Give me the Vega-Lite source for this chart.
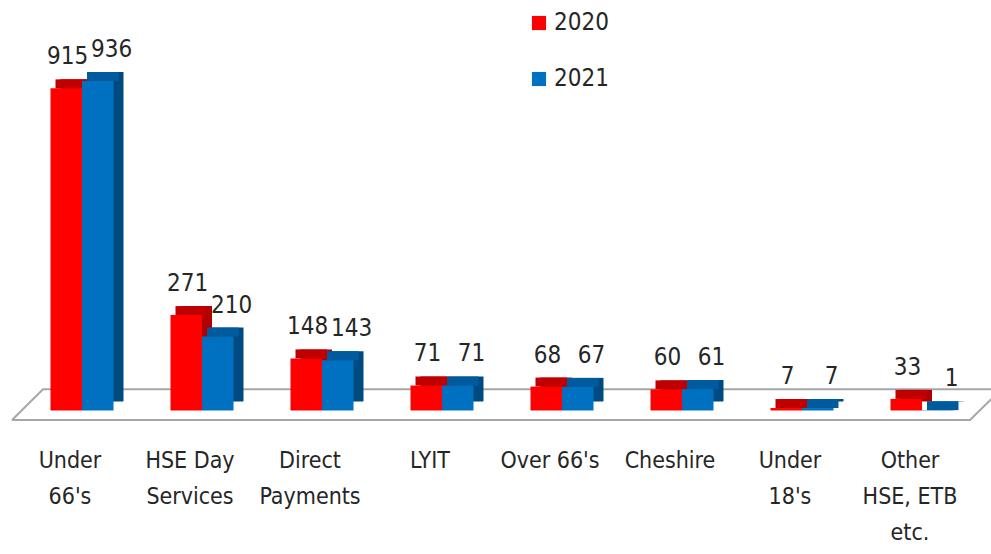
{
  "$schema": "https://vega.github.io/schema/vega-lite/v6.json",
  "width": 960,
  "height": 420,
  "autosize": "none",
  "padding": {"left": 22, "top": 0, "right": 9, "bottom": 134},
  "background": "white",
  "config": {
    "view": {"stroke": null},
    "font": "DejaVu Sans Condensed, Open Sans, sans-serif"
  },
  "datasets": {
    "bars": [
      {"category": "Under 66's", "year": "2020", "count": 915},
      {"category": "Under 66's", "year": "2021", "count": 936},
      {"category": "HSE Day Services", "year": "2020", "count": 271},
      {"category": "HSE Day Services", "year": "2021", "count": 210},
      {"category": "Direct Payments", "year": "2020", "count": 148},
      {"category": "Direct Payments", "year": "2021", "count": 143},
      {"category": "LYIT", "year": "2020", "count": 71},
      {"category": "LYIT", "year": "2021", "count": 71},
      {"category": "Over 66's", "year": "2020", "count": 68},
      {"category": "Over 66's", "year": "2021", "count": 67},
      {"category": "Cheshire", "year": "2020", "count": 60},
      {"category": "Cheshire", "year": "2021", "count": 61},
      {"category": "Under 18's", "year": "2020", "count": 7},
      {"category": "Under 18's", "year": "2021", "count": 7},
      {"category": "Other HSE, ETB etc.", "year": "2020", "count": 33},
      {"category": "Other HSE, ETB etc.", "year": "2021", "count": 1}
    ],
    "floor": [
      {"ord": 1, "fx": -0.083, "fy": -27},
      {"ord": 2, "fx": 7.9, "fy": -27},
      {"ord": 3, "fx": 8.16, "fy": 60},
      {"ord": 4, "fx": 0.175, "fy": 60},
      {"ord": 5, "fx": -0.083, "fy": -27}
    ]
  },
  "resolve": {"scale": {"x": "independent"}},
  "layer": [
    {
      "data": {"name": "floor"},
      "mark": {"type": "line", "stroke": "#a6a6a6", "strokeWidth": 2, "clip": false},
      "encoding": {
        "x": {"field": "fx", "type": "quantitative", "scale": {"domain": [0, 8], "nice": false, "zero": false}, "axis": null},
        "y": {"field": "fy", "type": "quantitative", "scale": {"domain": [-27, 1166], "nice": false, "zero": false}, "axis": null},
        "order": {"field": "ord", "type": "quantitative"}
      }
    },
    {
      "data": {"name": "bars"},
      "resolve": {"scale": {"xOffset": "independent"}},
      "encoding": {
        "x": {
          "field": "category",
          "type": "nominal",
          "sort": null,
          "scale": {"paddingInner": 0.475, "paddingOuter": 0.2375},
          "axis": {
            "title": null,
            "domain": false,
            "ticks": false,
            "labelAngle": 0,
            "labelFontSize": 23,
            "labelColor": "#262626",
            "labelLineHeight": 36,
            "labelPadding": 29,
            "labelOffset": -12,
            "labelBaseline": "top",
            "labelExpr": "datum.value == 'Under 66\\'s' ? ['Under', '66\\'s'] : datum.value == 'HSE Day Services' ? ['HSE Day', 'Services'] : datum.value == 'Direct Payments' ? ['Direct', 'Payments'] : datum.value == 'Under 18\\'s' ? ['Under', '18\\'s'] : datum.value == 'Other HSE, ETB etc.' ? ['Other', 'HSE, ETB', 'etc.'] : datum.value"
          }
        },
        "y": {"field": "count", "type": "quantitative", "scale": {"domain": [-27, 1166], "nice": false, "zero": false}, "axis": null}
      },
      "layer": [
        {
          "mark": {"type": "bar", "yOffset": -9, "y2Offset": -9},
          "encoding": {
            "xOffset": {"field": "year", "type": "nominal", "scale": {"domain": ["2020", "2021"], "range": [10, 73], "paddingInner": 0, "paddingOuter": 0}},
            "y2": {"datum": 0},
            "fill": {"condition": {"test": "datum.year == '2020'", "value": "#b00000"}, "value": "#004a82"}
          }
        },
        {
          "mark": {"type": "bar", "yOffset": -9, "y2Offset": 0},
          "encoding": {
            "xOffset": {"field": "year", "type": "nominal", "scale": {"domain": ["2020", "2021"], "range": [5, 68], "paddingInner": 0, "paddingOuter": 0}},
            "y2": {"field": "count"},
            "fill": {"condition": {"test": "datum.year == '2020'", "value": "#c00000"}, "value": "#005a9e"}
          }
        },
        {
          "mark": {"type": "bar"},
          "encoding": {
            "xOffset": {"field": "year", "type": "nominal", "scale": {"domain": ["2020", "2021"], "range": [0, 63], "paddingInner": 0, "paddingOuter": 0}},
            "y2": {"datum": 0},
            "color": {
              "field": "year",
              "type": "nominal",
              "scale": {"domain": ["2020", "2021"], "range": ["#ff0000", "#0070c0"]},
              "legend": {
                "title": null,
                "orient": "none",
                "legendX": 505,
                "legendY": 11,
                "symbolType": "square",
                "symbolSize": 200,
                "symbolStrokeWidth": 0,
                "labelFontSize": 24,
                "labelColor": "#262626",
                "labelOffset": 3,
                "rowPadding": 32
              }
            }
          }
        },
        {
          "mark": {"type": "text", "dx": 2, "dy": -31, "baseline": "middle", "fontSize": 24, "color": "#262626"},
          "encoding": {
            "xOffset": {"field": "year", "type": "nominal", "scale": {"type": "point", "domain": ["2020", "2021"], "range": [15, 59], "padding": 0}},
            "text": {"field": "count", "type": "quantitative"}
          }
        }
      ]
    }
  ]
}
